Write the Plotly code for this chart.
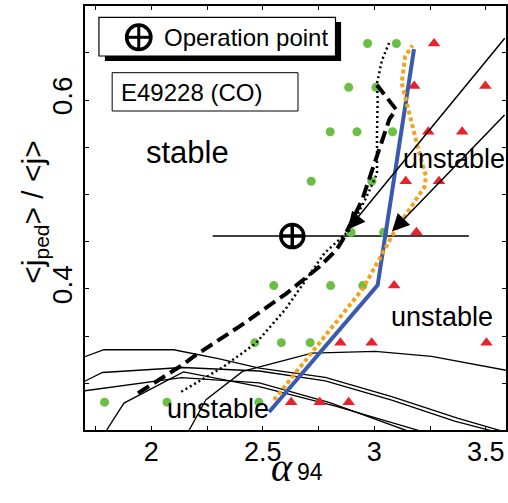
import plotly.graph_objects as go

# ---- stability scan: stable (green) and unstable (red) cases ----
stable_alpha = [2.970, 3.099, 2.885, 3.007, 2.802, 2.922, 3.082, 2.717, 2.989,
                2.896, 3.042, 2.549, 2.804, 2.948, 2.464, 2.583, 2.712,
                1.790, 2.070, 2.482]
stable_j = [0.660, 0.660, 0.6135, 0.6135, 0.5665, 0.5665, 0.5665, 0.514, 0.514,
            0.460, 0.460, 0.4035, 0.4035, 0.4035, 0.343, 0.343, 0.343,
            0.280, 0.280, 0.280]

unstable_alpha = [3.268, 3.179, 3.498, 3.242, 3.394, 3.141, 3.290, 3.189, 3.089,
                  2.848, 2.988, 3.503, 2.627, 2.755, 2.885]
unstable_j = [0.660, 0.615, 0.615, 0.5665, 0.5665, 0.514, 0.514, 0.460, 0.4035,
              0.343, 0.343, 0.343, 0.280, 0.280, 0.280]

# ---- marginal stability boundaries ----
blue_alpha = [2.528, 3.015, 3.178]
blue_j = [0.2695, 0.404, 0.654]

orange_alpha = [2.550, 2.750, 2.948, 3.045, 3.086, 3.225, 3.232, 3.198, 3.160,
                3.145, 3.123, 3.138, 3.171]
orange_j = [0.2825, 0.342, 0.400, 0.441, 0.459, 0.508, 0.519, 0.547, 0.582,
            0.600, 0.618, 0.646, 0.658]

dashed_alpha = [1.940, 2.130, 2.200, 2.394, 2.605, 2.754, 2.829, 2.858, 2.945,
                3.020, 3.068, 3.098, 3.012]
dashed_j = [0.2895, 0.318, 0.330, 0.360, 0.395, 0.4236, 0.441, 0.452, 0.494,
            0.547, 0.580, 0.590, 0.616]

dotted_alpha = [2.134, 2.320, 2.469, 2.600, 2.777, 2.888, 2.960, 3.012, 3.012,
                3.015, 3.012, 3.034, 3.067]
dotted_j = [0.291, 0.317, 0.3425, 0.378, 0.438, 0.462, 0.495, 0.522, 0.565,
            0.600, 0.618, 0.642, 0.661]

# thin operational trajectories
traj = [
    ([1.700, 1.787, 2.100, 2.300, 2.484, 2.780, 3.078, 3.376, 3.650],
     [0.328, 0.3355, 0.3355, 0.326, 0.316, 0.3063, 0.2858, 0.2629, 0.244]),
    ([1.700, 1.780, 2.140, 2.484, 2.780, 3.078, 3.360, 3.600],
     [0.302, 0.3114, 0.3167, 0.313, 0.3025, 0.2822, 0.2600, 0.245]),
    ([1.700, 2.136, 2.484, 2.800, 3.137, 3.160],
     [0.292, 0.306, 0.3005, 0.2795, 0.2505, 0.2485]),
    ([1.795, 1.877, 2.144, 2.484, 2.830, 3.198, 3.220],
     [0.2488, 0.279, 0.312, 0.2964, 0.2755, 0.2505, 0.2485]),
    ([2.165, 2.245, 2.409, 2.573, 2.720, 3.004, 3.257, 3.620],
     [0.2485, 0.2825, 0.3125, 0.323, 0.332, 0.3337, 0.3284, 0.3125]),
]

# operation point and the scan line through it
op_alpha, op_j = 2.632, 0.456
scan_alpha = [2.275, 3.424]
scan_j = [0.456, 0.456]

# arrows: (tip alpha, tip j, tail alpha, tail j)
arrows = [(2.881, 0.4629, 3.5906, 0.6671),
          (3.079, 0.4608, 3.5906, 0.5859)]

# axis ticks
x_ticks = [1.75, 2.0, 2.25, 2.5, 2.75, 3.0, 3.25, 3.5]
x_labels = ["", "2", "", "2.5", "", "3", "", "3.5"]
y_ticks = [0.30, 0.35, 0.40, 0.45, 0.50, 0.55, 0.60, 0.65]
y_labels = ["", "", "0.4", "", "", "", "0.6", ""]

W, H = 508, 503
ML, MR, MT, MB = 85, 0, 6, 73
PW, PH = W - ML - MR, H - MT - MB


def fx(X):
    return (X - ML) / PW


def fy(Y):
    return (H - MB - Y) / PH


SANS = "Liberation Sans, Arial, sans-serif"
GREEN = "#6cbf45"
RED = "#e8212b"

fig = go.Figure()

for xs, ys in traj:
    fig.add_trace(go.Scatter(x=xs, y=ys, mode="lines",
                             line=dict(color="black", width=1.3)))

fig.add_trace(go.Scatter(x=scan_alpha, y=scan_j, mode="lines",
                         line=dict(color="black", width=1.6)))

fig.add_trace(go.Scatter(x=stable_alpha, y=stable_j, mode="markers",
                         marker=dict(symbol="circle", size=9, color=GREEN)))
fig.add_trace(go.Scatter(x=unstable_alpha, y=unstable_j, mode="markers",
                         marker=dict(symbol="triangle-up", size=11, color=RED)))

fig.add_trace(go.Scatter(x=blue_alpha, y=blue_j, mode="lines",
                         line=dict(color="#3a5bad", width=4)))
fig.add_trace(go.Scatter(x=orange_alpha, y=orange_j, mode="lines",
                         line=dict(color="#f5a21b", width=4, dash="4px,3px")))
fig.add_trace(go.Scatter(x=dashed_alpha, y=dashed_j, mode="lines",
                         line=dict(color="black", width=4, dash="13px,6px")))
fig.add_trace(go.Scatter(x=dotted_alpha, y=dotted_j, mode="lines",
                         line=dict(color="black", width=2.5, dash="2px,3px")))

fig.add_trace(go.Scatter(x=[op_alpha], y=[op_j], mode="markers",
                         marker=dict(symbol="circle-cross-open", size=23,
                                     color="black", line=dict(width=3.5))))

for tx, ty, sx, sy in arrows:
    fig.add_annotation(x=tx, y=ty, ax=sx, ay=sy, axref="x", ayref="y",
                       xref="x", yref="y", text="", showarrow=True,
                       arrowhead=2, arrowsize=2.3, arrowwidth=1.5,
                       arrowcolor="black")

# legend-like boxes
shapes = [
    dict(type="rect", xref="paper", yref="paper",
         x0=fx(105), x1=fx(342.3), y0=fy(61), y1=fy(22),
         fillcolor="black", line=dict(width=0)),
    dict(type="rect", xref="paper", yref="paper",
         x0=fx(99), x1=fx(336.7), y0=fy(56), y1=fy(17.3),
         fillcolor="white", line=dict(color="black", width=1.2)),
    dict(type="rect", xref="paper", yref="paper",
         x0=fx(112.3), x1=fx(299), y0=fy(111), y1=fy(72.7),
         fillcolor="white", line=dict(color="black", width=1)),
]
cx, cy, r = 139, 37.3, 12.2
shapes += [
    dict(type="circle", xref="paper", yref="paper",
         x0=fx(cx - r), x1=fx(cx + r), y0=fy(cy + r), y1=fy(cy - r),
         line=dict(color="black", width=3.5)),
    dict(type="line", xref="paper", yref="paper",
         x0=fx(cx - r), x1=fx(cx + r), y0=fy(cy), y1=fy(cy),
         line=dict(color="black", width=3)),
    dict(type="line", xref="paper", yref="paper",
         x0=fx(cx), x1=fx(cx), y0=fy(cy - r), y1=fy(cy + r),
         line=dict(color="black", width=3)),
]
fig.update_layout(shapes=shapes)

fig.add_annotation(xref="paper", yref="paper", x=fx(162), y=fy(37.3),
                   xanchor="left", yanchor="middle", showarrow=False,
                   text="Operation point", font=dict(family=SANS, size=24, color="black"))
fig.add_annotation(xref="paper", yref="paper", x=fx(119), y=fy(92),
                   xanchor="left", yanchor="middle", showarrow=False,
                   text="E49228 (CO)", font=dict(family=SANS, size=24, color="black"))

region_labels = [
    ("stable", 2.160, 0.5443, 31),
    ("unstable", 3.358, 0.538, 27),
    ("unstable", 3.302, 0.370, 27),
    ("unstable", 2.299, 0.2729, 27),
]
for txt, lx, ly, fs in region_labels:
    fig.add_annotation(x=lx, y=ly, text=txt, showarrow=False,
                       xanchor="center", yanchor="middle",
                       font=dict(family=SANS, size=fs, color="black"))

# x-axis title: alpha with subscript 94
fig.add_annotation(xref="paper", yref="paper", x=fx(283), y=fy(467),
                   xanchor="center", yanchor="middle", showarrow=False,
                   text="<i>α</i>",
                   font=dict(family="Liberation Serif, serif", size=40, color="black"))
fig.add_annotation(xref="paper", yref="paper", x=fx(296), y=fy(472),
                   xanchor="left", yanchor="middle", showarrow=False,
                   text="94", font=dict(family=SANS, size=23, color="black"))
# y-axis title
fig.add_annotation(xref="paper", yref="paper", x=fx(34), y=fy(212.5),
                   xanchor="center", yanchor="middle", showarrow=False,
                   textangle=-90,
                   text="&lt;j<sub>ped</sub>&gt; / &lt;j&gt;",
                   font=dict(family=SANS, size=30, color="black"))

axis_common = dict(showgrid=False, zeroline=False, showline=True,
                   linecolor="black", linewidth=1.5, mirror="allticks",
                   ticks="inside", ticklen=4, tickwidth=1, tickcolor="black")

fig.update_xaxes(range=[1.70223, 3.59063], tickmode="array", tickvals=x_ticks,
                 ticktext=x_labels, ticklabelstandoff=-3,
                 tickfont=dict(family=SANS, size=27, color="black"),
                 **axis_common)
fig.update_yaxes(range=[0.25048, 0.69968], tickmode="array", tickvals=y_ticks,
                 ticktext=y_labels, tickangle=-90,
                 tickfont=dict(family=SANS, size=28, color="black"),
                 **axis_common)

fig.update_layout(width=W, height=H, showlegend=False,
                  margin=dict(l=ML, r=MR, t=MT, b=MB),
                  paper_bgcolor="white", plot_bgcolor="white")

fig.write_html("out.html")
